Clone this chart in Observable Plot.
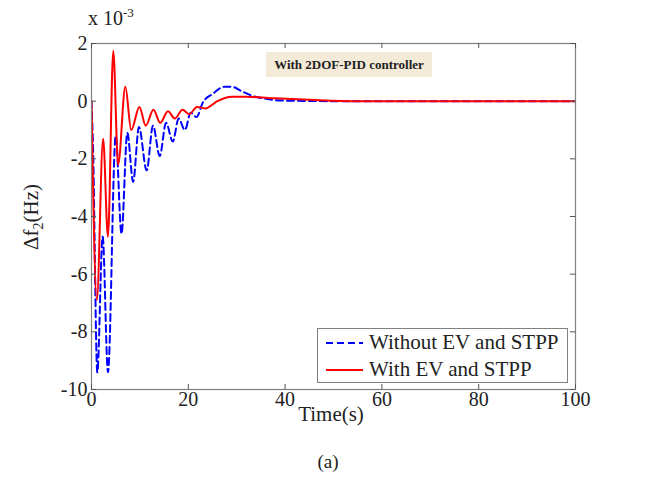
<!DOCTYPE html>
<html>
<head>
<meta charset="utf-8">
<script src="https://cdn.jsdelivr.net/npm/d3@7"></script>
<script src="https://cdn.jsdelivr.net/npm/@observablehq/plot@0.6"></script>
<style>
  body { margin: 0; background: #fff; }
  #wrap { position: relative; width: 656px; height: 492px; font-family: "Liberation Serif"; color: #222; }
  #wrap svg text { font-family: "Liberation Serif" !important; }
  .abs { position: absolute; white-space: nowrap; font-family: "Liberation Serif"; }
</style>
</head>
<body>
<div id="wrap"></div>
<script>
// ---- data (values in units of 1e-3 Hz) ----
const seriesNames = ["Without EV and STPP", "With EV and STPP"];
const seriesColors = ["#0000ff", "#ff0000"];

const timeWithout = [0, 0.3, 1.2, 2.3, 3.4, 5.0, 6.2, 7.4, 8.6, 9.8, 11.4, 12.7, 14.1, 15.4, 16.8, 18.0, 19.3, 20.5, 21.7, 23, 25, 27.5, 29, 31, 33, 36, 40, 50, 100];
const valWithout  = [0, -1.5, -9.4, -4.7, -9.4, -1.2, -4.6, -1.1, -2.8, -0.9, -2.4, -0.85, -1.9, -0.75, -1.4, -0.6, -1.0, -0.4, -0.55, -0.05, 0.25, 0.5, 0.5, 0.35, 0.2, 0.08, 0.02, 0, 0];

const timeWith = [0, 1.1, 2.4, 3.4, 4.5, 5.5, 7.0, 8.2, 9.9, 11.2, 12.8, 14.2, 15.8, 17.2, 18.8, 20.2, 21.8, 23.5, 26, 29, 32, 38, 45, 55, 100];
const valWith  = [0, -6.9, -1.3, -4.7, 1.75, -2.2, 0.5, -1.0, -0.2, -0.85, -0.3, -0.75, -0.35, -0.6, -0.3, -0.45, -0.2, -0.25, 0, 0.15, 0.15, 0.1, 0.05, 0, 0];

const xTicks = [0, 20, 40, 60, 80, 100];
const yTicks = [-10, -8, -6, -4, -2, 0, 2];
const xLabel = "Time(s)";
const annotation = "With 2DOF-PID controller";
const caption = "(a)";

// ---- build tables ----
const rowsWithout = timeWithout.map((t, i) => ({t, v: valWithout[i], s: seriesNames[0]}));
const rowsWith = timeWith.map((t, i) => ({t, v: valWith[i], s: seriesNames[1]}));

const W = 656, H = 440;
const mL = 91, mR = 81, mT = 43, mB = 51;
const ph = H - mT - mB, pw = W - mL - mR;
const tk = 5;

const chart = Plot.plot({
  width: W, height: H,
  marginLeft: mL, marginRight: mR, marginTop: mT, marginBottom: mB,
  x: {domain: [0, 100]},
  y: {domain: [-10, 2]},
  style: {fontFamily: "Liberation Serif", fontSize: "20px", color: "#222", background: "#fff", overflow: "visible"},
  marks: [
    Plot.line(rowsWithout, {x: "t", y: "v", stroke: seriesColors[0], strokeWidth: 2, strokeDasharray: "7,4", curve: "monotone-x", clip: true}),
    Plot.line(rowsWith, {x: "t", y: "v", stroke: seriesColors[1], strokeWidth: 2, curve: "monotone-x", clip: true}),
    Plot.frame({stroke: "#808080", strokeWidth: 1.2}),
    Plot.ruleX(xTicks, {stroke: "#555", insetTop: ph - tk}),
    Plot.ruleX(xTicks, {stroke: "#555", insetBottom: ph - tk}),
    Plot.ruleY(yTicks, {stroke: "#555", insetRight: pw - tk}),
    Plot.ruleY(yTicks, {stroke: "#555", insetLeft: pw - tk}),
    Plot.axisX({ticks: xTicks, tickSize: 0, tickPadding: 2, tickFormat: d => String(d), label: null, fontSize: 20}),
    Plot.axisY({ticks: yTicks, tickSize: 0, tickPadding: 4, tickFormat: d => String(d), label: null, fontSize: 20})
  ]
});

const wrap = document.getElementById("wrap");
wrap.appendChild(chart);
d3.select(chart).selectAll("text").attr("font-family", "Liberation Serif").style("font-family", "Liberation Serif");

function addDiv(html, style) {
  const d = document.createElement("div");
  d.className = "abs";
  d.innerHTML = html;
  Object.assign(d.style, style);
  wrap.appendChild(d);
  return d;
}

// x label
addDiv(xLabel, {left: "331px", top: "414px", transform: "translate(-50%,-50%)", fontSize: "21px"});
// y label
addDiv('&Delta;f<sub style="font-size:14px">2</sub>(Hz)', {left: "33px", top: "217px", transform: "translate(-50%,-50%) rotate(-90deg)", fontSize: "21px"});
// exponent
addDiv('x 10<sup style="font-size:13px">-3</sup>', {left: "88px", top: "5px", fontSize: "20px"});
// annotation
addDiv("<b>" + annotation + "</b>", {left: "266px", top: "52px", width: "166px", height: "25px", lineHeight: "25px", textAlign: "center", background: "#f3ead7", fontSize: "13px"});
// legend
const legendHtml = seriesNames.map((n, i) => {
  const dash = i === 0 ? 'stroke-dasharray="7,4"' : '';
  return `<div style="display:flex;align-items:center;height:27px">
    <svg width="40" height="10" style="margin:0 4px 0 7px"><line x1="1" y1="5" x2="38" y2="5" stroke="${seriesColors[i]}" stroke-width="2" ${dash}/></svg>
    <span>${n}</span></div>`;
}).join("");
addDiv(legendHtml, {left: "317px", top: "328px", width: "251px", height: "55px", border: "1px solid #808080", background: "#fff", fontSize: "21px", boxSizing: "border-box", padding: "0"});
// caption
addDiv(caption, {left: "328px", top: "462px", transform: "translate(-50%,-50%)", fontSize: "19px"});
</script>
</body>
</html>
